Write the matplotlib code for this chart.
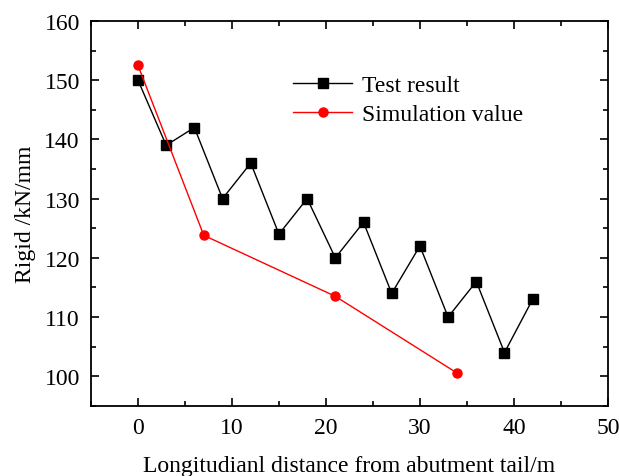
import matplotlib.pyplot as plt
from matplotlib.ticker import MultipleLocator

plt.rcParams['font.family'] = ['Liberation Serif', 'DejaVu Serif']

test_x = [0, 3, 6, 9, 12, 15, 18, 21, 24, 27, 30, 33, 36, 39, 42]
test_y = [150, 139, 142, 130, 136, 124, 130, 120, 126, 114, 122, 110, 116, 104, 113]
sim_x = [0, 7, 21, 34]
sim_y = [152.5, 123.8, 113.5, 100.5]

fig = plt.figure(figsize=(6.19, 4.77), dpi=100)
ax = fig.add_axes([0.147, 0.147, 0.835, 0.807])

ax.plot(test_x, test_y, color='black', lw=1, marker='s', ms=6.5, label='Test result')
ax.plot(sim_x, sim_y, color='red', lw=1, marker='o', ms=6.5, label='Simulation value')

ax.set_xlim(-5, 50)
ax.set_ylim(95, 160)
ax.xaxis.set_major_locator(MultipleLocator(10))
ax.xaxis.set_minor_locator(MultipleLocator(5))
ax.yaxis.set_major_locator(MultipleLocator(10))
ax.yaxis.set_minor_locator(MultipleLocator(5))
ax.tick_params(which='both', direction='in', top=True, right=True, labelsize=17, width=1.2)
ax.tick_params(which='major', length=6, pad=8)
ax.tick_params(which='minor', length=3.5)
for s in ax.spines.values():
    s.set_linewidth(1.3)

ax.set_xlabel('Longitudianl distance from abutment tail/m', fontsize=17, labelpad=12)
ax.set_ylabel('Rigid /kN/mm', fontsize=17, labelpad=6)

ax.legend(loc='upper left', bbox_to_anchor=(0.35, 0.915), frameon=False, fontsize=17,
          handlelength=2.5, handletextpad=0.4, labelspacing=0.3)

fig.savefig('out.png', dpi=100)
